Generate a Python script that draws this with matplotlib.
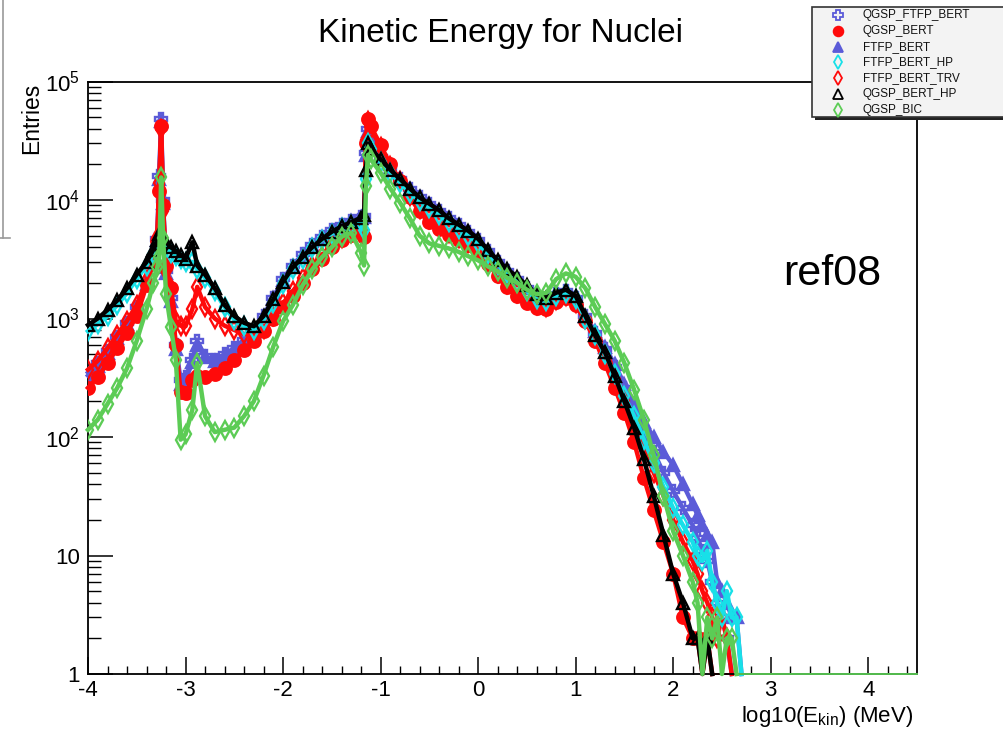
#!/usr/bin/env python3
# Kinetic energy spectrum of nuclei: seven physics lists compared, ROOT-like look.
import numpy as np
import matplotlib
matplotlib.use("Agg")
import matplotlib.pyplot as plt
from matplotlib.lines import Line2D
from matplotlib.patches import Rectangle
from matplotlib.ticker import FixedLocator, FixedFormatter, MultipleLocator, LogLocator, NullFormatter

plt.rcParams["font.family"] = ["Liberation Sans", "DejaVu Sans"]
plt.rcParams["mathtext.fontset"] = "custom"
plt.rcParams["mathtext.rm"] = "Liberation Sans"
plt.rcParams["axes.unicode_minus"] = False

# bin centres, log10(Ekin/MeV)
X = [-4.0, -3.9, -3.8, -3.7, -3.6, -3.5, -3.4,
     -3.33, -3.29, -3.27, -3.25, -3.23,
     -3.2, -3.15, -3.1, -3.05, -3.0,
     -2.93, -2.88, -2.8, -2.7, -2.6, -2.5, -2.4, -2.3,
     -2.2, -2.1, -2.0, -1.9, -1.8, -1.7, -1.6, -1.5, -1.4, -1.3, -1.2,
     -1.17, -1.15, -1.13, -1.1,
     -1.0, -0.9, -0.8, -0.7, -0.6, -0.5, -0.4, -0.3, -0.2, -0.1,
     0.0, 0.1, 0.2, 0.3, 0.4, 0.5, 0.6, 0.7, 0.8, 0.9,
     1.0, 1.1, 1.2, 1.3, 1.4, 1.5, 1.6, 1.7, 1.8, 1.9,
     2.0, 2.1, 2.2, 2.25, 2.3, 2.35, 2.4, 2.45, 2.5, 2.55, 2.6, 2.65, 2.7,
     3.0, 3.5, 4.0, 4.5]

# entries per bin (0 = empty bin)
QGSP_FTFP_BERT = [350, 420, 530, 700, 920, 1250, 2000,
                  3100, 4700, 16000, 48000, 10000,
                  2500, 1500, 600, 300, 320,
                  450, 650, 480, 450, 500, 560, 660, 780,
                  1050, 1500, 2150, 2800, 3500, 4200, 4900, 5600, 6200, 6700, 7200,
                  7300, 25000, 40000, 33000,
                  23000, 18500, 15000, 12500, 10500, 9300, 8100, 7000, 6100, 5400,
                  4600, 3700, 3000, 2500, 2150, 1800, 1550, 1450, 1600, 1700,
                  1500, 1050, 750, 550, 390, 260, 170, 110, 75, 50,
                  35, 25, 18, 14, 11, 9, 6, 4, 3, 2, 0, 0, 0,
                  0, 0, 0, 0]
QGSP_BERT = [260, 320, 420, 560, 760, 1050, 1900,
             3000, 4500, 12000, 42000, 9000,
             2800, 1800, 600, 240, 235,
             300, 330, 320, 340, 380, 450, 540, 650,
             780, 1000, 1250, 1550, 2000, 2600, 3200, 4000, 4600, 5100, 5500,
             4900, 30000, 48000, 42000,
             29000, 20000, 14500, 10500, 8000, 6500, 5700, 5100, 4600, 4200,
             3600, 2900, 2300, 1850, 1550, 1350, 1220, 1200, 1380, 1480,
             1300, 950, 650, 420, 260, 160, 90, 45, 24, 13,
             7, 3, 2, 2, 0, 2, 0, 0, 0, 0, 0, 0, 0,
             0, 0, 0, 0]
FTFP_BERT = [330, 400, 510, 680, 900, 1200, 1950,
             3000, 4600, 15000, 46000, 9500,
             2400, 1400, 550, 280, 300,
             430, 600, 470, 440, 480, 550, 650, 770,
             1050, 1500, 2100, 2750, 3450, 4150, 4850, 5500, 6100, 6600, 7100,
             7200, 24000, 38000, 32000,
             22500, 18500, 15000, 12500, 10500, 9200, 8000, 7000, 6100, 5300,
             4500, 3700, 3000, 2500, 2100, 1800, 1550, 1450, 1600, 1700,
             1500, 1050, 780, 580, 410, 280, 190, 135, 100, 75,
             58, 40, 27, 22, 18, 15, 13, 6, 5, 4, 3, 3, 0,
             0, 0, 0, 0]
FTFP_BERT_HP = [780, 900, 1050, 1300, 1650, 2150, 2800,
                3500, 4200, 4600, 4900, 4500,
                4000, 3600, 3400, 3200, 3000,
                3000, 2600, 2200, 1700, 1250, 980, 860, 800,
                970, 1350, 1950, 2600, 3200, 3900, 4600, 5200, 5800, 6200, 6500,
                5600, 15000, 30000, 27000,
                21000, 17000, 14000, 11500, 9800, 8600, 7500, 6500, 5700, 5000,
                4300, 3500, 2850, 2400, 2050, 1700, 1450, 1400, 1550, 1650,
                1450, 1000, 720, 500, 340, 220, 150, 95, 60, 38,
                25, 18, 13, 10, 9, 11, 6, 4, 3, 5, 3, 3, 0,
                0, 0, 0, 0]
FTFP_BERT_TRV = [370, 440, 560, 730, 960, 1300, 2100,
                 3200, 4800, 14000, 40000, 8000,
                 2500, 1800, 950, 870, 860,
                 1200, 1850, 1250, 1000, 870, 800, 740, 720,
                 820, 1050, 1350, 1700, 2200, 2800, 3400, 4200, 4800, 5300, 5700,
                 5300, 32000, 46000, 40000,
                 28000, 19500, 14500, 10800, 8400, 6900, 6000, 5300, 4800, 4300,
                 3700, 3000, 2400, 1950, 1650, 1450, 1300, 1250, 1420, 1550,
                 1350, 1000, 700, 470, 310, 200, 130, 80, 50, 32,
                 20, 13, 9, 7, 5, 4, 3, 2, 3, 2, 0, 0, 0,
                 0, 0, 0, 0]
QGSP_BERT_HP = [880, 1000, 1180, 1420, 1800, 2350, 3000,
                3800, 4600, 5200, 5400, 4800,
                4400, 4000, 3700, 3450, 3200,
                4400, 2800, 2350, 1800, 1300, 1050, 920, 860,
                1050, 1450, 2050, 2700, 3300, 4000, 4700, 5400, 6000, 6500, 7100,
                7500, 18000, 30000, 27000,
                22000, 18000, 15000, 12500, 10500, 9300, 8200, 7000, 6200, 5500,
                4700, 3800, 3100, 2600, 2250, 1900, 1600, 1500, 1650, 1750,
                1550, 1050, 720, 520, 330, 200, 120, 65, 32, 15,
                7, 4, 2, 2, 0, 2, 0, 0, 0, 0, 0, 0, 0,
                0, 0, 0, 0]
QGSP_BIC = [115, 140, 190, 260, 380, 650, 1200,
            2000, 2700, 3300, 15500, 4800,
            1600, 850, 450, 95, 105,
            170, 420, 150, 110, 115, 120, 150, 200,
            330, 580, 950, 1300, 1900, 2600, 3300, 4000, 4900, 5300, 3600,
            2800, 13000, 24000, 22000,
            17000, 12500, 9500, 7000, 5000, 4300, 4100, 3900, 3650, 3350,
            3100, 2750, 2500, 2200, 2000, 1750, 1600, 1650, 2150, 2400,
            2250, 1800, 1250, 900, 650, 420, 250, 140, 70, 32,
            16, 10, 6, 4, 0, 3, 2, 3, 0, 2, 2, 0, 0,
            0, 0, 0, 0]

BLUE = "#5b5bd8"
RED = "#ff0a0a"
CYAN = "#18e0e8"
GREEN = "#5ccc55"

# name, values, colour, marker, filled  (legend order)
SERIES = [
    ("QGSP_FTFP_BERT", QGSP_FTFP_BERT, BLUE, "P", False),
    ("QGSP_BERT", QGSP_BERT, RED, "o", True),
    ("FTFP_BERT", FTFP_BERT, BLUE, "^", True),
    ("FTFP_BERT_HP", FTFP_BERT_HP, CYAN, "d", False),
    ("FTFP_BERT_TRV", FTFP_BERT_TRV, RED, "d", False),
    ("QGSP_BERT_HP", QGSP_BERT_HP, "black", "^", False),
    ("QGSP_BIC", QGSP_BIC, GREEN, "d", False),
]
DRAW_ORDER = [0, 2, 1, 4, 3, 5, 6]

W, H = 1004, 736
fig = plt.figure(figsize=(W / 100, H / 100), dpi=100)
ax = fig.add_axes([88 / W, 1 - 674 / H, 829 / W, (674 - 81.5) / H])

x = np.array(X)
for z, i in enumerate(DRAW_ORDER):
    name, vals, col, mk, filled = SERIES[i]
    y = np.array(vals, dtype=float)
    ok = y > 0
    yl = np.where(ok, y, 1.0)  # empty bins sit on the axis, like the ROOT drawing
    last = np.nonzero(ok)[0][-1] + 1
    ax.plot(x[:last + 1], yl[:last + 1], color=col, lw=3.2, zorder=2 + z,
            clip_on=False, solid_joinstyle="round")
    ax.plot(x[last:], yl[last:], color=col, lw=1.3, zorder=2 + z, clip_on=False)
    ax.plot(x[ok], y[ok], ls="none", marker=mk, ms=9,
            mfc=col if filled else "none", mec=col, mew=1.7, zorder=2 + z)

ax.set_yscale("log")
ax.set_xlim(-4, 4.5)
ax.set_ylim(1, 1e5)

ax.xaxis.set_major_locator(MultipleLocator(1))
ax.xaxis.set_minor_locator(MultipleLocator(0.2))
ax.yaxis.set_major_locator(FixedLocator([1, 10, 1e2, 1e3, 1e4, 1e5]))
ax.yaxis.set_major_formatter(FixedFormatter(
    ["1", "10", r"$\mathregular{10^{2}}$", r"$\mathregular{10^{3}}$",
     r"$\mathregular{10^{4}}$", r"$\mathregular{10^{5}}$"]))
ax.yaxis.set_minor_locator(LogLocator(base=10, subs=np.arange(2, 10)))
ax.yaxis.set_minor_formatter(NullFormatter())

ax.tick_params(axis="x", which="major", direction="in", length=12, width=1.1,
               labelsize=16, pad=4, top=False)
ax.tick_params(axis="x", which="minor", direction="in", length=6, width=1.0, top=False)
ax.tick_params(axis="y", which="major", direction="in", length=18, width=1.1,
               labelsize=16, pad=6, right=False)
ax.tick_params(axis="y", which="minor", direction="in", length=9, width=1.0, right=False)
for s in ax.spines.values():
    s.set_linewidth(1.3)
    s.set_zorder(1)

# texts
fig.text(501 / W, 1 - 42 / H, "Kinetic Energy for Nuclei", ha="center",
         va="baseline", fontsize=24)
fig.text(783 / W, 1 - 285 / H, "ref08", ha="left", va="baseline", fontsize=31)
fig.text(32 / W, 1 - 83 / H, "Entries", rotation=90, ha="center", va="top",
         fontsize=16.5)
fig.text(913 / W, 1 - 722 / H, r"log10(E$_{\mathregular{kin}}$) (MeV)",
         ha="right", va="baseline", fontsize=16)

# piece of a neighbouring pad frame at the left edge of the screenshot
fig.add_artist(Line2D([3 / W, 3 / W], [1, 1 - 238 / H], transform=fig.transFigure,
                      color="#9a9a9a", lw=1.2))
fig.add_artist(Line2D([0, 10 / W], [1 - 238 / H, 1 - 238 / H],
                      transform=fig.transFigure, color="#9a9a9a", lw=1.2))

# legend box (ROOT TLegend with shadow), runs off the right edge
lx0, ly0, lx1, ly1 = 812, 7, 1012, 117
fig.add_artist(Rectangle(((lx0 + 3) / W, 1 - (ly1 + 3) / H), (lx1 - lx0) / W,
                         (ly1 - ly0) / H, transform=fig.transFigure,
                         facecolor="#222222", edgecolor="none", zorder=20))
fig.add_artist(Rectangle((lx0 / W, 1 - ly1 / H), (lx1 - lx0) / W, (ly1 - ly0) / H,
                         transform=fig.transFigure, facecolor="#f3f3f3",
                         edgecolor="#333333", lw=1.2, zorder=21))
rows = [15, 31, 47, 62, 78, 94, 110]
for (name, vals, col, mk, filled), ry in zip(SERIES, rows):
    fig.add_artist(Line2D([838 / W], [1 - ry / H], transform=fig.transFigure,
                          ls="none", marker=mk, ms=7, mfc=col if filled else "none",
                          mec=col, mew=1.3, zorder=22))
    fig.text(863 / W, 1 - ry / H, name, ha="left", va="center", fontsize=8.5,
             color="#111111", zorder=22)

fig.savefig("out.png", dpi=100)
